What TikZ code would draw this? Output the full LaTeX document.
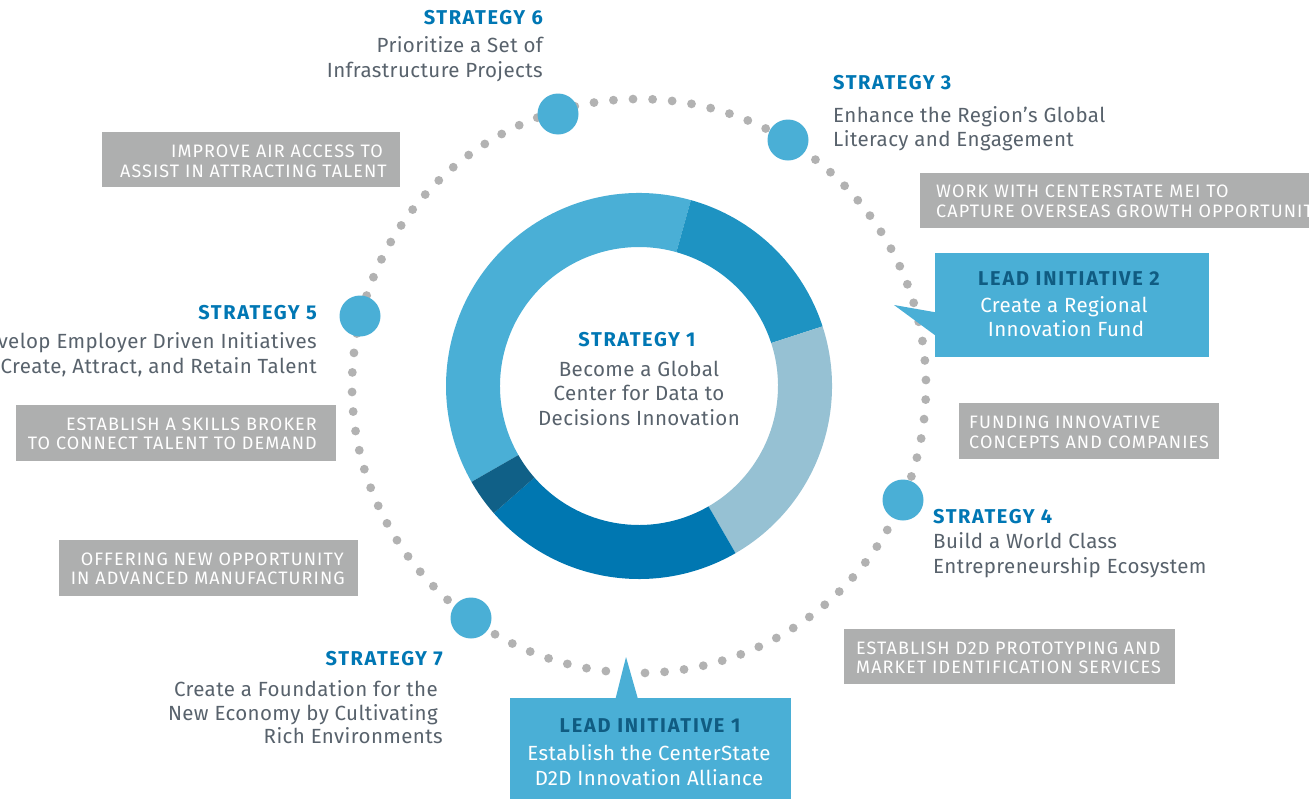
\documentclass[tikz,border=0pt]{standalone}
\usepackage{fontspec}
\setmainfont{Fira Sans}
\newfontfamily\bodyfont[LetterSpace=2]{Fira Sans}
\newfontfamily\headfont[LetterSpace=8]{Fira Sans}
\newfontfamily\boxfont[LetterSpace=6]{Fira Sans}
\newfontfamily\liheadfont[LetterSpace=9]{Fira Sans}
\definecolor{ringA}{RGB}{74,175,214}
\definecolor{ringB}{RGB}{30,147,194}
\definecolor{ringC}{RGB}{150,193,211}
\definecolor{ringD}{RGB}{0,119,177}
\definecolor{ringE}{RGB}{16,96,135}
\definecolor{headblue}{RGB}{0,119,180}
\definecolor{bodygray}{RGB}{88,98,108}
\definecolor{boxgray}{RGB}{174,175,175}
\definecolor{dotgray}{RGB}{178,178,178}
\definecolor{lidark}{RGB}{16,92,130}
\begin{document}
\begin{tikzpicture}[x=1pt,y=-1pt,
  head/.style={inner sep=0pt, font=\headfont\fontsize{20}{20}\selectfont\bfseries, text=headblue},
  body/.style={inner sep=0pt, font=\bodyfont\fontsize{20.5}{20.5}\selectfont, text=bodygray},
  boxtxt/.style={inner sep=0pt, font=\boxfont\fontsize{18}{18}\selectfont, text=white},
  lihead/.style={inner sep=0pt, font=\liheadfont\fontsize{20}{20}\selectfont\bfseries, text=lidark},
  libody/.style={inner sep=0pt, font=\bodyfont\fontsize{20.5}{20.5}\selectfont, text=white},
  graybox/.style={fill=boxgray, inner sep=0pt, anchor=north west, minimum width=#1},
  graybox/.default=100pt,
  libox/.style={fill=ringA, inner sep=0pt, anchor=north west},
  marker/.style={circle, fill=ringA, inner sep=0pt, minimum size=41pt},
  dotstyle/.style={fill=dotgray}
]
\useasboundingbox (0,0) rectangle (1309,798);
\clip (0,0) rectangle (1309,798);
\fill[white] (0,0) rectangle (1309,798);

% dotted ring
\coordinate (ctr) at (639,386);
\foreach \k in {0,...,90}{
  \pgfmathsetmacro{\ang}{-88.8+\k*3.913}
  \fill[dotstyle] ({639+287*cos(\ang)},{386-287*sin(\ang)}) circle[radius=4.4];
}

% donut
\begin{scope}[shift={(ctr)}, yscale=-1]
  \fill[ringA] (74.4:193) arc[start angle=74.4, end angle=209.8, radius=193] -- (209.8:139) arc[start angle=209.8, end angle=74.4, radius=139] -- cycle;
  \fill[ringB] (18:193) arc[start angle=18, end angle=74.4, radius=193] -- (74.4:139) arc[start angle=74.4, end angle=18, radius=139] -- cycle;
  \fill[ringC] (-60:193) arc[start angle=-60, end angle=18, radius=193] -- (18:139) arc[start angle=18, end angle=-60, radius=139] -- cycle;
  \fill[ringD] (-138.8:193) arc[start angle=-138.8, end angle=-60, radius=193] -- (-60:139) arc[start angle=-60, end angle=-138.8, radius=139] -- cycle;
  \fill[ringE] (209.8:193) arc[start angle=209.8, end angle=221.2, radius=193] -- (221.2:139) arc[start angle=221.2, end angle=209.8, radius=139] -- cycle;
\end{scope}

% strategy markers
\node[marker] (m6) at (558,114) {};
\node[marker] (m3) at (788,140) {};
\node[marker] (m5) at (360,316) {};
\node[marker] (m4) at (903,500) {};
\node[marker] (m7) at (471,618) {};

% centre text
\node[head, anchor=base] (s1h) at (637,346) {STRATEGY 1};
\node[body, anchor=base] (s1a) at (639,376) {Become a Global};
\node[body, anchor=base] (s1b) at (639,400) {Center for Data to};
\node[body, anchor=base] (s1c) at (639,425) {Decisions Innovation};

% strategy 6
\node[head, anchor=base east] (s6h) at (543,24) {STRATEGY 6};
\node[body, anchor=base east] (s6a) at (543,52) {Prioritize a Set of};
\node[body, anchor=base east] (s6b) at (543,77) {Infrastructure Projects};

% strategy 3
\node[head, anchor=base west] (s3h) at (833,89) {STRATEGY 3};
\node[body, anchor=base west] (s3a) at (833,122) {Enhance the Region’s Global};
\node[body, anchor=base west] (s3b) at (833,146) {Literacy and Engagement};

% strategy 5
\node[head, anchor=base east] (s5h) at (317,319) {STRATEGY 5};
\node[body, anchor=base east] (s5a) at (317,348) {Develop Employer Driven Initiatives};
\node[body, anchor=base east] (s5b) at (317,373) {to Create, Attract, and Retain Talent};

% strategy 4
\node[head, anchor=base west] (s4h) at (933,523) {STRATEGY 4};
\node[body, anchor=base west] (s4a) at (933,548) {Build a World Class};
\node[body, anchor=base west] (s4b) at (933,573) {Entrepreneurship Ecosystem};

% strategy 7
\node[head, anchor=base east] (s7h) at (443,665) {STRATEGY 7};
\node[body, anchor=base east] (s7a) at (438,696) {Create a Foundation for the};
\node[body, anchor=base east] (s7b) at (438,720) {New Economy by Cultivating};
\node[body, anchor=base east] (s7c) at (443,743) {Rich Environments};

% gray boxes
\node[graybox=298pt, minimum height=55pt] (bair) at (102,132) {};
\node[boxtxt, anchor=base east] (bair1) at (383,157) {IMPROVE AIR ACCESS TO};
\node[boxtxt, anchor=base east] (bair2) at (387,177) {ASSIST IN ATTRACTING TALENT};

\node[graybox=400pt, minimum height=55pt] (bmei) at (920,173) {};
\node[boxtxt, anchor=base west] (bmei1) at (936,197) {WORK WITH CENTERSTATE MEI TO};
\node[boxtxt, anchor=base west] (bmei2) at (936,217) {CAPTURE OVERSEAS GROWTH OPPORTUNITIES};

\node[graybox=260pt, minimum height=56pt] (bfund) at (959,403) {};
\node[boxtxt, anchor=base west] (bfund1) at (969,428) {FUNDING INNOVATIVE};
\node[boxtxt, anchor=base west] (bfund2) at (969,448) {CONCEPTS AND COMPANIES};

\node[graybox=331pt, minimum height=55pt] (bd2d) at (844,629) {};
\node[boxtxt, anchor=base west] (bd2d1) at (856,654) {ESTABLISH D2D PROTOTYPING AND};
\node[boxtxt, anchor=base west] (bd2d2) at (856,673) {MARKET IDENTIFICATION SERVICES};

\node[graybox=320pt, minimum height=56pt] (bskill) at (16,405) {};
\node[boxtxt, anchor=base east] (bskill1) at (317,430) {ESTABLISH A SKILLS BROKER};
\node[boxtxt, anchor=base east] (bskill2) at (317,449) {TO CONNECT TALENT TO DEMAND};

\node[graybox=299pt, minimum height=56pt] (boffer) at (59,540) {};
\node[boxtxt, anchor=base east] (boffer1) at (344,565) {OFFERING NEW OPPORTUNITY};
\node[boxtxt, anchor=base east] (boffer2) at (345,584) {IN ADVANCED MANUFACTURING};

% lead initiative 2
\node[libox, minimum width=274pt, minimum height=104pt] (li2) at (935,253) {};
\coordinate (li2tip) at (894,305);
\fill[ringA] ([yshift=-7pt]li2.west) -- (li2tip) -- ([yshift=-30pt]li2.west) -- cycle;
\node[lihead, anchor=base] (li2h) at (1069,285) {LEAD INITIATIVE 2};
\node[libody, anchor=base] (li2a) at (1064,312) {Create a Regional};
\node[libody, anchor=base] (li2b) at (1066,336) {Innovation Fund};

% lead initiative 1
\node[libox, minimum width=281pt, minimum height=102pt] (li1) at (510,698) {};
\coordinate (li1tip) at (626,657);
\fill[ringA] ([xshift=-35pt]li1.north) -- (li1tip) -- ([xshift=-13pt]li1.north) -- cycle;
\node[lihead, anchor=base] (li1h) at (650,732) {LEAD INITIATIVE 1};
\node[libody, anchor=base] (li1a) at (649,760) {Establish the CenterState};
\node[libody, anchor=base] (li1b) at (649,785) {D2D Innovation Alliance};
\end{tikzpicture}
\end{document}
